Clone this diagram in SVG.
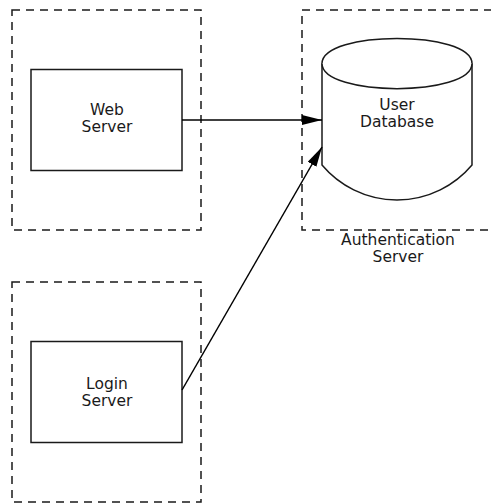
<svg xmlns="http://www.w3.org/2000/svg" width="491" height="504" viewBox="0 0 491 504">
<style>
.cluster{fill:none;stroke:#1a1a1a;stroke-width:1.5;stroke-dasharray:8 6}
.node{fill:#fff;stroke:#1a1a1a;stroke-width:1.5}
.edge{fill:none;stroke:#000;stroke-width:1.5}
text{font-family:"DejaVu Sans",sans-serif;font-size:15.5px;fill:#1a1a1a;text-anchor:middle}
</style>
<defs>
<marker id="arr" markerUnits="userSpaceOnUse" markerWidth="22" markerHeight="12" refX="20" refY="5" orient="auto">
<path d="M0,0 L20,5 L0,10 Z" fill="#000"/>
</marker>
</defs>
<g id="cluster-web"><rect class="cluster" x="12" y="10" width="189" height="220"/></g>
<g id="cluster-login"><rect class="cluster" x="12" y="282" width="189" height="220"/></g>
<g id="cluster-auth"><rect class="cluster" x="302" y="10" width="200" height="220"/>
<text x="398" y="245">Authentication</text><text x="398" y="262">Server</text></g>
<g id="web-server"><rect class="node" x="31" y="69.5" width="151" height="101"/>
<text x="107" y="115">Web</text><text x="107" y="132">Server</text></g>
<g id="login-server"><rect class="node" x="31" y="341.5" width="151" height="101"/>
<text x="107" y="389">Login</text><text x="107" y="406">Server</text></g>
<g id="user-database">
<path class="node" d="M322,63.5 C322,30 472,30 472,63.5 L472,165 A98 98 0 0 1 322,165 Z"/>
<path class="node" fill="none" d="M322,63.5 C322,97 472,97 472,63.5"/>
<text x="397" y="110">User</text><text x="397" y="127">Database</text></g>
<g id="connectors">
<line class="edge" x1="182" y1="120" x2="322" y2="120" marker-end="url(#arr)"/>
<line class="edge" x1="182" y1="390" x2="322" y2="147" marker-end="url(#arr)"/>
</g>
</svg>
